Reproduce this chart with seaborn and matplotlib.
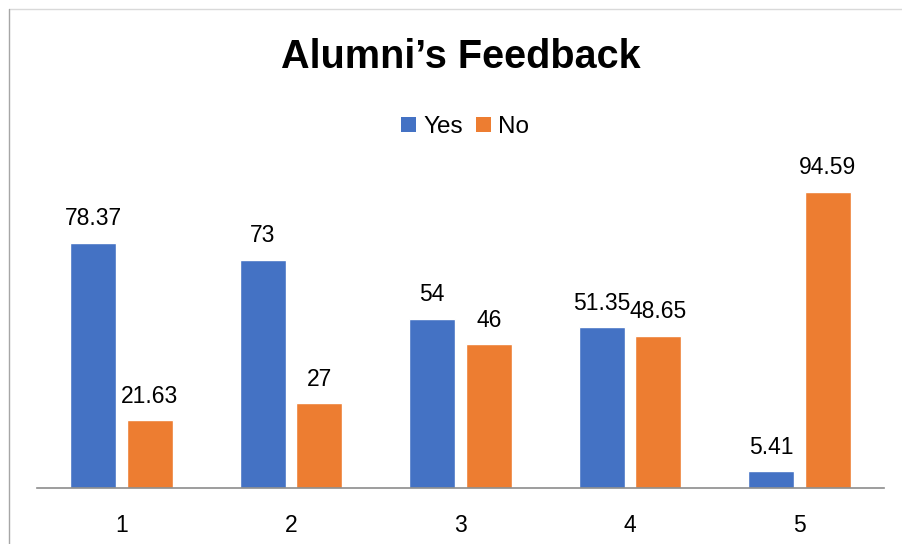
import matplotlib
matplotlib.use("Agg")
import matplotlib.pyplot as plt
from matplotlib.lines import Line2D
from matplotlib.patches import Patch
import seaborn as sns
import pandas as pd

# ---- data ----
categories = ["1", "2", "3", "4", "5"]
yes_values = [78.37, 73, 54, 51.35, 5.41]
no_values = [21.63, 27, 46, 48.65, 94.59]
series_names = ["Yes", "No"]
colors = ["#4472C4", "#ED7D31"]
title = "Alumni\u2019s Feedback"

df = pd.DataFrame({
    "cat": categories * 2,
    "val": yes_values + no_values,
    "series": [series_names[0]] * len(categories) + [series_names[1]] * len(categories),
})

sns.set_theme(style="white")
plt.rcParams["font.family"] = ["Liberation Sans", "DejaVu Sans"]
plt.rcParams["text.color"] = "#000000"

W, H = 902, 544
fig = plt.figure(figsize=(W / 100, H / 100), dpi=100)
ax = fig.add_axes([37 / W, (H - 488) / H, (884 - 37) / W, 313 / H])

sns.barplot(data=df, x="cat", y="val", hue="series", order=categories,
            hue_order=series_names, palette=colors, width=0.667, gap=0.186,
            saturation=1, ax=ax, legend=False, errorbar=None)

ax.set_ylim(0, 100)
ax.set_xlim(-0.5, len(categories) - 0.5)
ax.set_xlabel("")
ax.set_ylabel("")
ax.set_yticks([])
for s in ["top", "right", "left"]:
    ax.spines[s].set_visible(False)
ax.spines["bottom"].set_color("#8c8c8c")
ax.spines["bottom"].set_linewidth(1.2)
ax.tick_params(axis="x", length=0, pad=19, labelsize=16.5, labelcolor="#000000")

for cont in ax.containers:
    ax.bar_label(cont, labels=[f"{v:g}" for v in cont.datavalues],
                 padding=9, fontsize=16.5, color="#000000")

fig.text(461 / W, 1 - 57 / H, title, ha="center", va="center",
         fontsize=28.5, fontweight="bold", color="#000000")

handles = [Patch(facecolor=c, edgecolor="none") for c in colors]
leg = fig.legend(handles, series_names, loc="center", bbox_to_anchor=(465 / W, 1 - 127 / H),
                 ncol=2, frameon=False, fontsize=17.5, handlelength=0.62, handleheight=0.62,
                 handletextpad=0.3, columnspacing=0.55, borderpad=0)
for t in leg.get_texts():
    t.set_color("#000000")

# chart border (top and left visible)
fig.add_artist(Line2D([9 / W, 1], [1 - 9 / H, 1 - 9 / H], transform=fig.transFigure,
                      color="#d9d9d9", lw=1))
fig.add_artist(Line2D([9 / W, 9 / W], [0, 1 - 9 / H], transform=fig.transFigure,
                      color="#a6a6a6", lw=1))

fig.savefig("out.png", dpi=100, facecolor="white")
